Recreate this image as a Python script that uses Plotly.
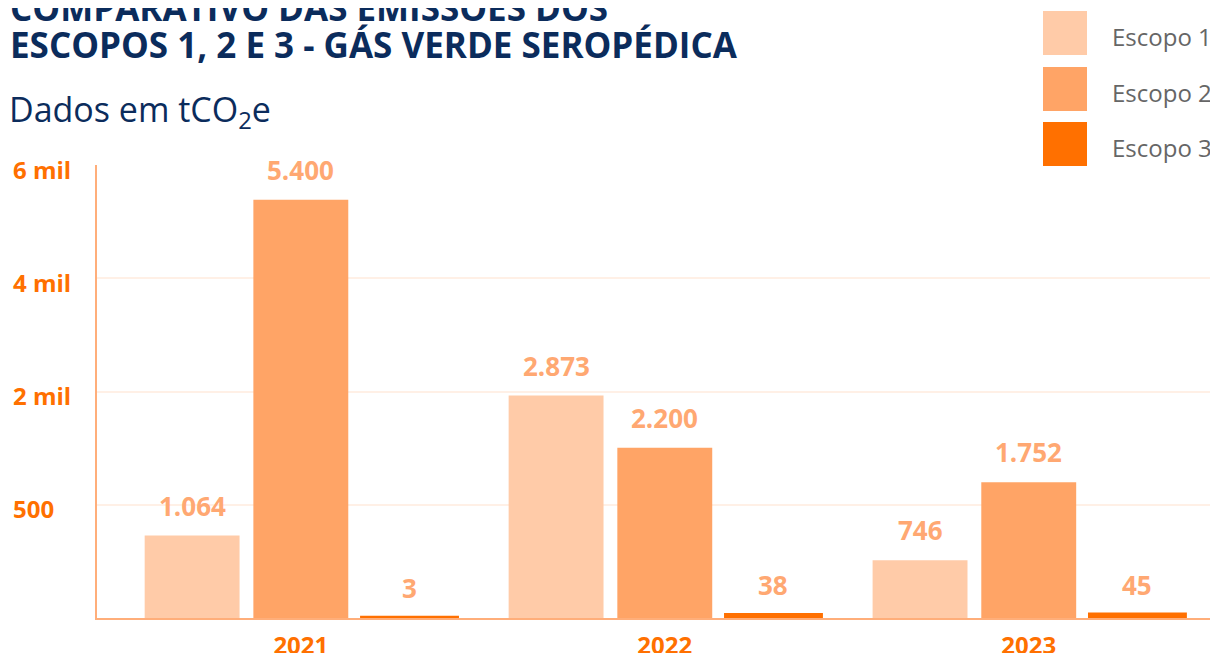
import plotly.graph_objects as go

# ---------------- data ----------------
years = ["2021", "2022", "2023"]
series_names = ["Escopo 1", "Escopo 2", "Escopo 3"]
escopo1 = [1064, 2873, 746]
escopo2 = [5400, 2200, 1752]
escopo3 = [3, 38, 45]
value_labels_1 = ["1.064", "2.873", "746"]
value_labels_2 = ["5.400", "2.200", "1.752"]
value_labels_3 = ["3", "38", "45"]
y_tick_labels = ["500", "2 mil", "4 mil", "6 mil"]

# ---------------- style ----------------
OFF = 8  # page body margin
W, H = 1218 - OFF, 653 - OFF
ML, MR, MT, MB = 97 - OFF, 0, 165 - OFF, 35
PW, PH = W - ML - MR, H - MT - MB
colors = ["#FFCBA8", "#FFA466", "#FF7000"]
label_color = "#FFA872"
axis_orange = "#FF7000"
navy = "#0B2C5C"
FONT = "Open Sans"
Y_MAX = 5850
BARGAP = 0.104
BARGROUPGAP = 0.127


def px_x(px):
    """reference-page x pixel -> paper coordinate"""
    return (px - OFF - ML) / PW


def px_y(py):
    """reference-page y pixel -> paper coordinate"""
    return (H - MB - (py - OFF)) / PH


fig = go.Figure()
all_vals = [escopo1, escopo2, escopo3]
all_labels = [value_labels_1, value_labels_2, value_labels_3]
for i, (name, vals) in enumerate(zip(series_names, all_vals)):
    fig.add_trace(go.Bar(
        x=years, y=vals, name=name,
        marker=dict(color=colors[i],
                    line=dict(color=colors[i], width=4 if i == 2 else 0)),
        showlegend=False,
        hoverinfo="x+y+name",
    ))

# value labels above bars
slot = (1 - BARGAP) / 3
for i, (vals, labs) in enumerate(zip(all_vals, all_labels)):
    for k, (v, t) in enumerate(zip(vals, labs)):
        fig.add_annotation(
            x=k + (i - 1) * slot, y=v, xref="x", yref="y",
            text=t, showarrow=False, yanchor="bottom", yshift=10,
            font=dict(family=FONT, size=26, color=label_color, weight="bold"),
        )

# y tick labels (left aligned)
tickvals = [Y_MAX * f for f in (0.25, 0.5, 0.75, 1.0)]
for tv, tl in zip(tickvals, y_tick_labels):
    fig.add_annotation(
        x=px_x(11), y=tv, xref="paper", yref="y", text=tl,
        showarrow=False, xanchor="left", yanchor="middle", yshift=-4,
        font=dict(family=FONT, size=24, color=axis_orange, weight="bold"),
    )

# custom legend
leg_tops = [11, 67, 122]
for i, name in enumerate(series_names):
    top = leg_tops[i]
    fig.add_shape(type="rect", xref="paper", yref="paper",
                  x0=px_x(1043), x1=px_x(1087), y0=px_y(top + 44), y1=px_y(top),
                  fillcolor=colors[i], line=dict(width=0))
    fig.add_annotation(x=px_x(1110), y=px_y(top + 25), xref="paper", yref="paper",
                       text=name, showarrow=False, xanchor="left", yanchor="middle",
                       font=dict(family=FONT, size=24, color="#666666"))

# titles
fig.add_annotation(x=px_x(8), y=px_y(7), xref="paper", yref="paper",
                   text="COMPARATIVO DAS EMISSÕES DOS", showarrow=False,
                   xanchor="left", yanchor="middle",
                   font=dict(family=FONT, size=35, color=navy, weight="bold"))
fig.add_annotation(x=px_x(8), y=px_y(45), xref="paper", yref="paper",
                   text="ESCOPOS 1, 2 E 3 - GÁS VERDE SEROPÉDICA", showarrow=False,
                   xanchor="left", yanchor="middle",
                   font=dict(family=FONT, size=35, color=navy, weight="bold"))
fig.add_annotation(x=px_x(7), y=px_y(111), xref="paper", yref="paper",
                   text="Dados em tCO<sub>2</sub>e", showarrow=False,
                   xanchor="left", yanchor="middle",
                   font=dict(family=FONT, size=34, color=navy))

fig.update_layout(
    template="none",
    width=W, height=H,
    margin=dict(l=ML, r=MR, t=MT, b=MB, autoexpand=False),
    paper_bgcolor="white", plot_bgcolor="white",
    barmode="group", bargap=BARGAP, bargroupgap=BARGROUPGAP,
    showlegend=False,
    font=dict(family=FONT),
    xaxis=dict(
        type="category", range=[-0.56, 2.52], automargin=False,
        showline=True, linecolor="#FFAE7A", linewidth=1.5,
        showgrid=False, ticks="", ticklabelstandoff=5,
        tickfont=dict(family=FONT, size=24, color=axis_orange, weight="bold"),
    ),
    yaxis=dict(
        range=[0, Y_MAX], tickvals=tickvals, showticklabels=False,
        automargin=False,
        showline=True, linecolor="#FFAE7A", linewidth=1.5,
        showgrid=True, gridcolor="#FFF0E6", gridwidth=1.5,
        zeroline=False, ticks="",
    ),
)

fig.write_html("out.html")
